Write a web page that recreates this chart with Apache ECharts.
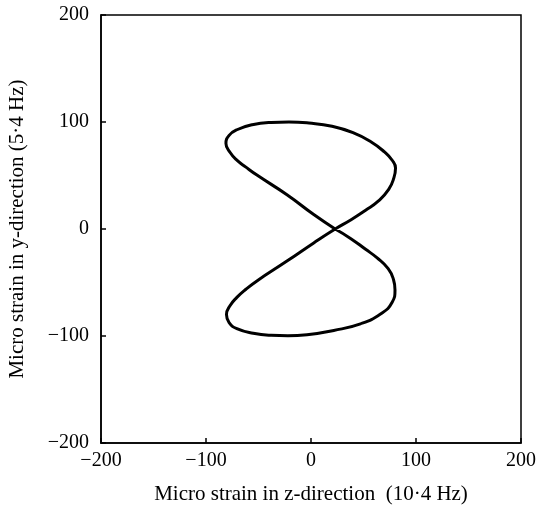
<!DOCTYPE html>
<html>
<head>
<meta charset="utf-8">
<script src="https://cdn.jsdelivr.net/npm/echarts@6/dist/echarts.min.js"></script>
<style>
html, body { margin: 0; padding: 0; background: #fff; }
#chart { width: 539px; height: 508px; }
</style>
</head>
<body>
<div id="chart"></div>
<script>
// points, in drawing order (closed loop)
const zStrain = [23, 2.6, -22.9, -51.5, -62, -70.6, -77, -81, -78, -70, -56, -38, -21, -2, 20, 40, 57, 70, 77.5, 80.5, 79, 74, 64, 52, 37,
  23, 2.6, -22.9, -51.5, -62, -70.6, -77, -80.5, -78, -70.6, -55, -38, -22, -3.8, 21.7, 47.1, 66.2, 77.3, 80, 78.5, 73.5, 63, 52, 38, 23];
const yStrain = [0, 13.5, 32, 50.4, 57.8, 64.3, 71.5, 80, 87.5, 93, 97.5, 99.6, 100, 99, 96, 90, 81.5, 72, 64, 57, 48, 37, 26, 17.5, 8,
  0, -13, -30, -48.5, -56.3, -63.9, -71.5, -80, -87.5, -93.2, -97.5, -99.4, -99.8, -98.8, -94.8, -88.6, -79.4, -68.5, -57, -47, -37, -27, -19, -9, 0];

const serif = 'Liberation Serif';

function init() {
    const pts = zStrain.map((z, i) => [z, yStrain[i]]);
    const axisCommon = {
        type: 'value', min: -200, max: 200, interval: 100,
        nameLocation: 'middle',
        nameTextStyle: { fontFamily: serif, fontSize: 21, color: '#000' },
        axisLine: { onZero: false, lineStyle: { color: '#000', width: 1.5 } },
        axisTick: { inside: true, length: 5, lineStyle: { color: '#000', width: 1.5 } },
        splitLine: { show: false }
    };
    const option = {
        backgroundColor: '#fff',
        animation: false,
        grid: {
            left: 101, top: 15, width: 420, height: 428,
            containLabel: false, outerBoundsMode: 'none',
            show: true, borderColor: '#000', borderWidth: 1.5
        },
        xAxis: Object.assign({}, axisCommon, {
            name: 'Micro strain in z-direction  (10·4 Hz)',
            nameGap: 41,
            axisLabel: { fontFamily: serif, fontSize: 20, color: '#000', margin: 8,
                formatter: v => String(v).replace('-', '\u2212') }
        }),
        yAxis: Object.assign({}, axisCommon, {
            name: 'Micro strain in y-direction (5·4 Hz)',
            nameGap: 73,
            axisLabel: { fontFamily: serif, fontSize: 20, color: '#000', margin: 12,
                formatter: v => String(v).replace('-', '\u2212') }
        }),
        series: [{
            type: 'line',
            data: pts,
            smooth: 0.5,
            showSymbol: false,
            lineStyle: { color: '#000', width: 3 }
        }]
    };
    const mychart = echarts.init(document.getElementById('chart'));
    mychart.setOption(option);
}
init();
</script>
</body>
</html>
